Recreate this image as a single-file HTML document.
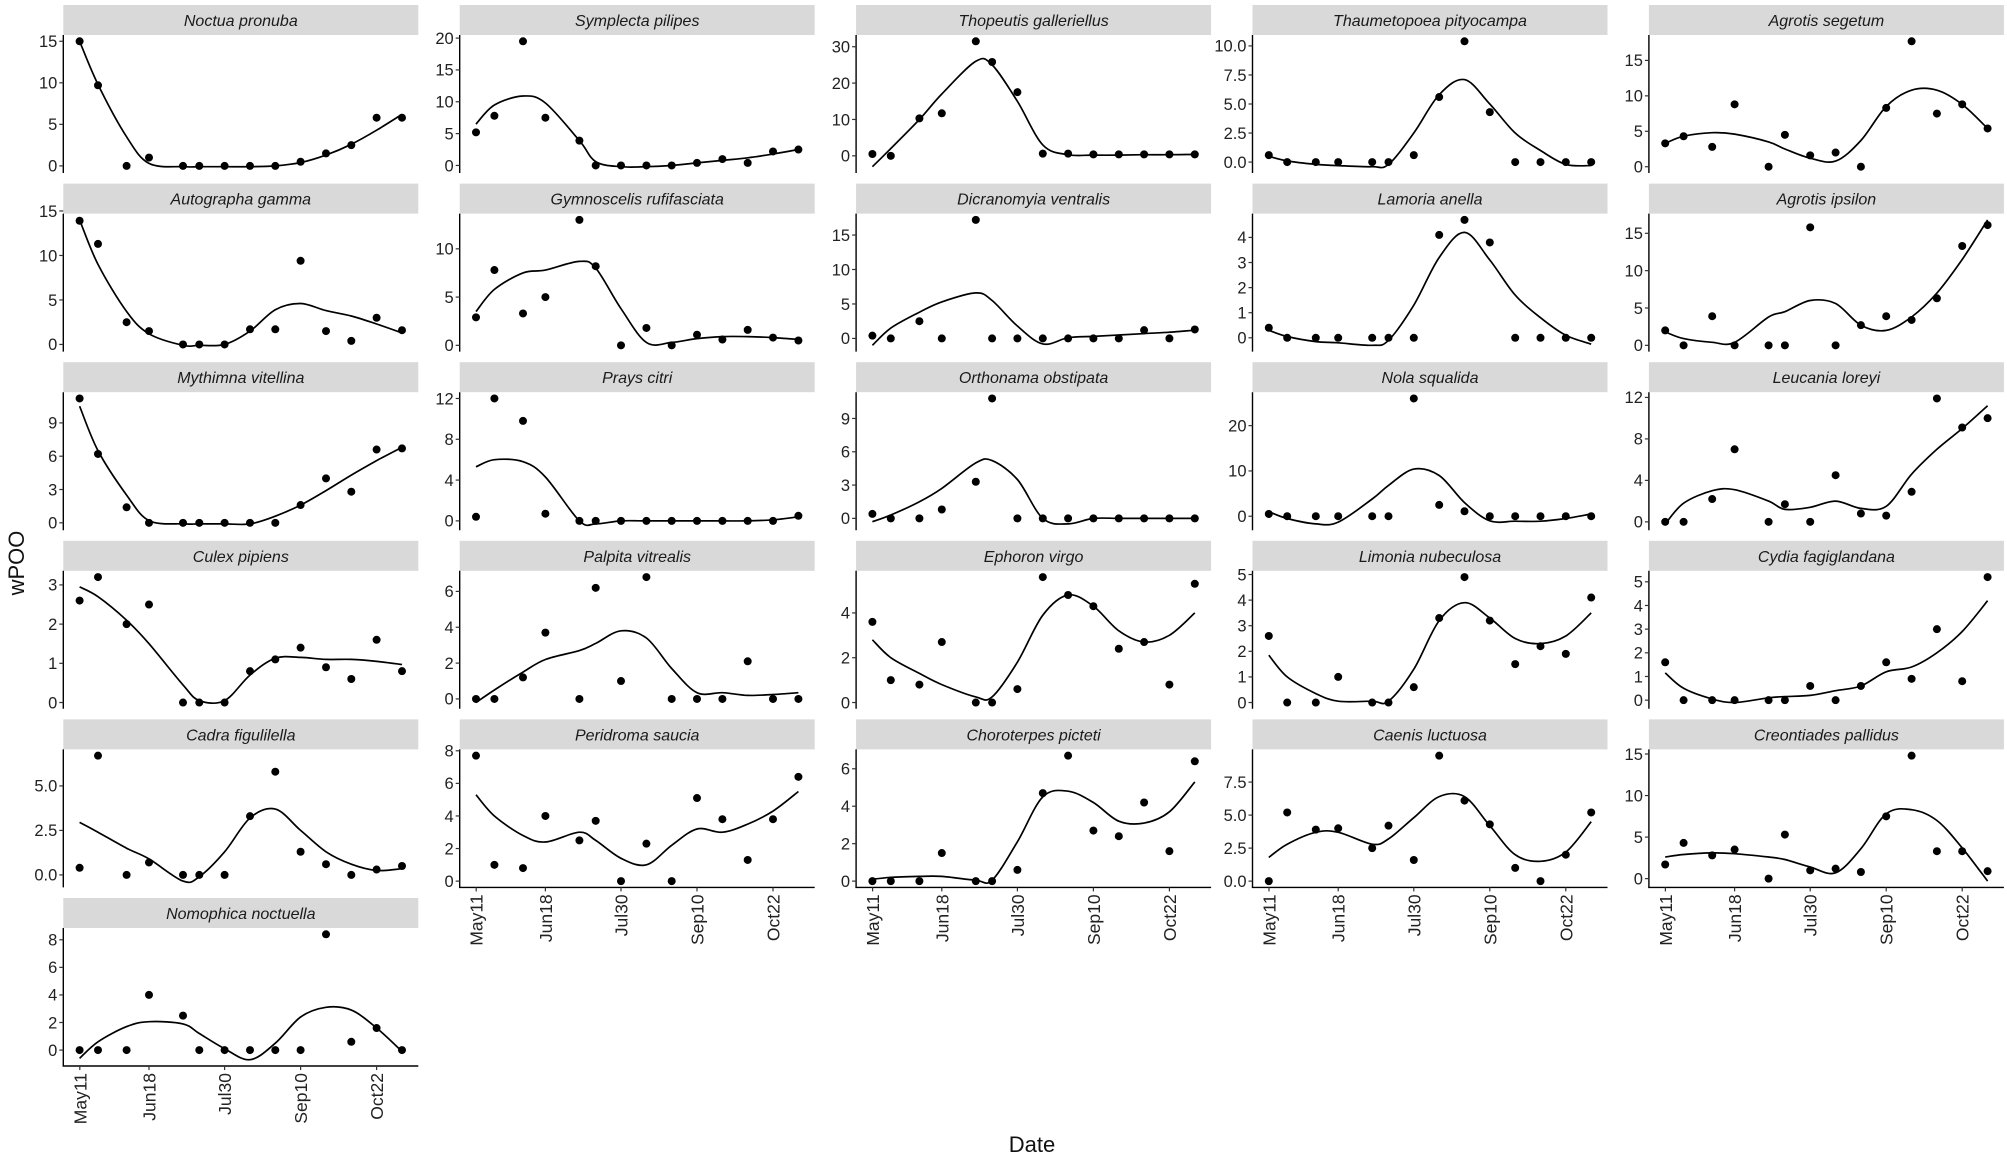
<!DOCTYPE html>
<html><head><meta charset="utf-8"><style>
html,body{margin:0;padding:0;background:#fff;}
svg{display:block;font-family:"Liberation Sans",Arial,sans-serif;}
</style></head><body>
<svg id="c" width="2007" height="1159" viewBox="0 0 2007 1159" xmlns="http://www.w3.org/2000/svg">
<rect width="2007" height="1159" fill="#fff"/>
<text x="24" y="563" font-size="22" text-anchor="middle" transform="rotate(-90 24 563)" fill="#111">wPOO</text>
<text x="1032" y="1152" font-size="22" text-anchor="middle" fill="#111">Date</text>
</svg>
<script>
const P=[
["Noctua pronuba",["0","5","10","15"],[15,9.7,0,1,0,0,0,0,0,0.5,1.5,2.5,5.8,5.8],[15,9.8,3.5,0.3,-0.1,-0.1,-0.1,-0.1,0,0.4,1.3,2.6,4.3,6.2]],
["Symplecta pilipes",["0","5","10","15","20"],[5.2,7.8,19.5,7.5,3.9,0,0,0,0,0.4,1,0.4,2.2,2.5],[6.5,9.5,10.9,9.8,3.9,0.6,-0.2,-0.2,0,0.4,0.8,1.2,1.8,2.5]],
["Thopeutis galleriellus",["0","10","20","30"],[0.5,0,10.3,11.7,31.5,25.8,17.5,0.6,0.6,0.4,0.4,0.4,0.4,0.4],[-3,2,10,17,26,25,15,3,0.3,0.2,0.2,0.3,0.3,0.4]],
["Thaumetopoea pityocampa",["0.0","2.5","5.0","7.5","10.0"],[0.6,0,0,0,0,0,0.6,5.6,10.4,4.3,0,0,0,0],[0.5,0.1,-0.2,-0.3,-0.4,-0.2,2.5,5.8,7.1,5,2.5,1,-0.2,-0.3]],
["Agrotis segetum",["0","5","10","15"],[3.3,4.3,2.8,8.8,0,4.5,1.6,2,0,8.3,17.7,7.5,8.8,5.4],[3.3,4.3,4.8,4.6,3.5,2.5,1.2,0.8,3.7,8.5,10.8,10.8,8.8,5.4]],
["Autographa gamma",["0","5","10","15"],[13.9,11.3,2.5,1.5,0,0,0,1.7,1.7,9.4,1.5,0.4,3,1.6],[14,9,3.7,1.2,-0.1,-0.1,0,1.5,3.9,4.6,3.8,3.2,2.3,1.3]],
["Gymnoscelis rufifasciata",["0","5","10"],[2.9,7.8,3.3,5,13,8.2,0,1.8,0,1.1,0.6,1.6,0.8,0.5],[3.5,5.8,7.5,7.8,8.7,8,3.8,0.3,0.3,0.7,0.9,0.9,0.8,0.6]],
["Dicranomyia ventralis",["0","5","10","15"],[0.4,0,2.5,0,17.2,0,0,0,0,0,0,1.2,0,1.3],[-1,1.5,3.8,5.3,6.6,5.5,1.8,-0.8,0.1,0.3,0.5,0.7,0.9,1.2]],
["Lamoria anella",["0","1","2","3","4"],[0.4,0,0,0,0,0,0,4.1,4.7,3.8,0,0,0,0],[0.3,0.05,-0.15,-0.2,-0.3,-0.1,1.3,3.2,4.2,3.1,1.7,0.8,0.1,-0.25]],
["Agrotis ipsilon",["0","5","10","15"],[2,0,3.9,0,0,0,15.8,0,2.7,3.9,3.4,6.3,13.3,16.1],[1.8,0.9,0.4,0.4,3.8,4.5,6,5.6,2.7,2,3.8,7,11.5,16.8]],
["Mythimna vitellina",["0","3","6","9"],[11.2,6.2,1.4,0,0,0,0,0,0,1.6,4,2.8,6.6,6.7],[10.5,6.5,2.5,0.2,-0.1,-0.1,-0.1,-0.1,0.6,1.6,2.9,4.3,5.6,6.8]],
["Prays citri",["0","4","8","12"],[0.4,12,9.8,0.7,0,0,0,0,0,0,0,0,0,0.5],[5.3,6,5.8,4.3,0,-0.3,0,0,0,0,0,0,0.1,0.4]],
["Orthonama obstipata",["0","3","6","9"],[0.4,0,0,0.8,3.3,10.8,0,0,0,0,0,0,0,0],[-0.3,0.3,1.5,2.7,5,5.2,3.5,0,-0.5,0,0,0,0,0]],
["Nola squalida",["0","10","20"],[0.5,0,0,0,0,0,26,2.5,1.1,0,0,0,0,0],[1,-0.5,-1.7,-1.3,3.8,6.8,10.4,9,3,-1,-1.1,-1.1,-0.5,0.5]],
["Leucania loreyi",["0","4","8","12"],[0,0,2.2,7,0,1.7,0,4.5,0.8,0.6,2.9,11.9,9.1,10],[-0.2,1.8,3,3.1,2,1.2,1.4,2,1.3,1.5,4.6,7,9,11.2]],
["Culex pipiens",["0","1","2","3"],[2.6,3.2,2,2.5,0,0,0,0.8,1.1,1.4,0.9,0.6,1.6,0.8],[2.95,2.7,2.1,1.5,0.45,0.05,0.05,0.7,1.13,1.15,1.1,1.1,1.05,0.97]],
["Palpita vitrealis",["0","2","4","6"],[0,0,1.2,3.7,0,6.2,1,6.8,0,0,0,2.1,0,0],[-0.2,0.5,1.5,2.2,2.7,3.1,3.8,3.4,1.7,0.35,0.35,0.2,0.25,0.35]],
["Ephoron virgo",["0","2","4"],[3.6,1,0.8,2.7,0,0,0.6,5.6,4.8,4.3,2.4,2.7,0.8,5.3],[2.8,2,1.3,0.8,0.25,0.25,1.8,3.9,4.8,4.3,3.2,2.7,3.0,4.0]],
["Limonia nubeculosa",["0","1","2","3","4","5"],[2.6,0,0,1,0,0,0.6,3.3,4.9,3.2,1.5,2.2,1.9,4.1],[1.85,1,0.35,0.05,0.05,0.05,1.3,3.2,3.9,3.3,2.5,2.3,2.6,3.5]],
["Cydia fagiglandana",["0","1","2","3","4","5"],[1.6,0,0,0,0,0,0.6,0,0.6,1.6,0.9,3,0.8,5.2],[1.15,0.5,0.05,-0.1,0.1,0.15,0.2,0.4,0.6,1.2,1.4,2,2.9,4.2]],
["Cadra figulilella",["0.0","2.5","5.0"],[0.4,6.7,0,0.7,0,0,0,3.3,5.8,1.3,0.6,0,0.3,0.5],[2.95,2.4,1.5,0.9,-0.35,-0.1,1.3,3.2,3.7,2.5,1.3,0.6,0.25,0.35]],
["Peridroma saucia",["0","2","4","6","8"],[7.7,1,0.8,4,2.5,3.7,0,2.3,0,5.1,3.8,1.3,3.8,6.4],[5.3,4,2.8,2.4,3,2.5,1.4,1,2.2,3.2,3,3.5,4.3,5.5]],
["Choroterpes picteti",["0","2","4","6"],[0,0,0,1.5,0,0,0.6,4.7,6.7,2.7,2.4,4.2,1.6,6.4],[0.1,0.2,0.25,0.25,0.05,0.05,2.1,4.5,4.8,4.2,3.2,3.1,3.7,5.3]],
["Caenis luctuosa",["0.0","2.5","5.0","7.5"],[0,5.2,3.9,4,2.5,4.2,1.6,9.5,6.1,4.3,1,0,2,5.2],[1.8,2.8,3.7,3.7,2.8,3.2,4.8,6.4,6.4,4.2,2,1.5,2.2,4.5]],
["Creontiades pallidus",["0","5","10","15"],[1.7,4.3,2.8,3.5,0,5.3,1,1.2,0.8,7.5,14.8,3.3,3.3,0.9],[2.6,2.9,3.1,3,2.6,2.3,1.4,0.7,3.6,7.8,8.3,7,3.7,-0.3]],
["Nomophica noctuella",["0","2","4","6","8"],[0,0,0,4,2.5,0,0,0,0,0,8.4,0.6,1.6,0],[-0.6,0.6,1.7,2.06,1.9,1.2,0.1,-0.7,0.5,2.4,3.1,2.9,1.6,-0.1]]
];
const XO=[16.3,34.7,63.3,85.7,119.7,136,161.3,186.7,212,237.3,262.7,288,313.3,338.7];
const TX=[16.5,85.7,161.3,237.3,313.3],TL=["May11","Jun18","Jul30","Sep10","Oct22"];
const L0=63.3,PITCH=396.4,W=355,ROW0=5,RP=178.6,SH=30,PH=138;
let s="";
P.forEach((p,i)=>{
 const r=Math.floor(i/5),c=i%5;
 const L=L0+c*PITCH,T=ROW0+r*RP,top=T+SH,bot=top+PH;
 const all=p[2].concat(p[3]);let mn=Math.min(...all),mx=Math.max(...all);
 const sp=mx-mn,lo=mn-0.05*sp,hi=mx+0.05*sp;
 const Y=v=>top+(hi-v)/(hi-lo)*PH;
 s+=`<rect x="${L}" y="${T}" width="${W}" height="${SH}" fill="#d9d9d9"/>`;
 s+=`<text x="${L+W/2}" y="${T+21}" font-size="16" font-style="italic" text-anchor="middle" fill="#1a1a1a">${p[0]}</text>`;
 s+=`<line x1="${L}" y1="${top}" x2="${L}" y2="${bot}" stroke="#000" stroke-width="1.4"/>`;
 p[1].forEach(t=>{const y=Y(parseFloat(t));
  s+=`<line x1="${L-4}" y1="${y}" x2="${L}" y2="${y}" stroke="#333" stroke-width="1.2"/>`;
  s+=`<text x="${L-6}" y="${y+5.8}" font-size="16.5" text-anchor="end" fill="#222">${t}</text>`;});
 const bottomAxis=(r===4&&c>0)||(r===5);
 if(bottomAxis){
  s+=`<line x1="${L-0.7}" y1="${bot}" x2="${L+W}" y2="${bot}" stroke="#000" stroke-width="1.4"/>`;
  TX.forEach((tx,k)=>{const x=L+tx;
   s+=`<line x1="${x}" y1="${bot}" x2="${x}" y2="${bot+4}" stroke="#333" stroke-width="1.2"/>`;
   s+=`<text x="${x+6.5}" y="${bot+7}" font-size="17.5" text-anchor="end" transform="rotate(-90 ${x+6.5} ${bot+7})" fill="#222">${TL[k]}</text>`;});
 }
 const pts=XO.map((o,k)=>[L+o,Y(p[3][k])]);
 let d=`M${pts[0][0].toFixed(1)},${pts[0][1].toFixed(1)}`;
 for(let k=0;k<pts.length-1;k++){
  const p0=pts[Math.max(0,k-1)],p1=pts[k],p2=pts[k+1],p3=pts[Math.min(pts.length-1,k+2)];
  const c1=[p1[0]+(p2[0]-p0[0])/6,p1[1]+(p2[1]-p0[1])/6],c2=[p2[0]-(p3[0]-p1[0])/6,p2[1]-(p3[1]-p1[1])/6];
  d+=` C${c1[0].toFixed(1)},${c1[1].toFixed(1)} ${c2[0].toFixed(1)},${c2[1].toFixed(1)} ${p2[0].toFixed(1)},${p2[1].toFixed(1)}`;
 }
 s+=`<path d="${d}" fill="none" stroke="#000" stroke-width="1.7"/>`;
 XO.forEach((o,k)=>{s+=`<circle cx="${L+o}" cy="${Y(p[2][k])}" r="4" fill="#000"/>`;});
});
document.getElementById("c").insertAdjacentHTML("beforeend",s);
</script>
</body></html>
